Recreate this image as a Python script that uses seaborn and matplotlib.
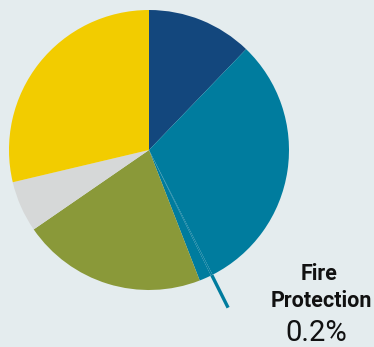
import numpy as np
import matplotlib
matplotlib.use("Agg")
import matplotlib.pyplot as plt
import seaborn as sns

# Data (percent shares, clockwise from 12 o'clock)
categories = ["Category A", "Category B", "Fire Protection", "Category C", "Category D", "Category E", "Category F"]
values = [12.2, 30.3, 0.2, 1.4, 21.3, 5.9, 28.7]
colors = ["#13477d", "#007c9e", "#007c9e", "#007c9e", "#8a9939", "#d6d8d8", "#f2cc00"]
label_name = ["Fire", "Protection"]
label_value = "0.2%"
label_index = 2

sns.set_theme(style="white")
bg = "#e4ecee"

fig = plt.figure(figsize=(3.74, 3.47), dpi=100, facecolor=bg)
ax = fig.add_axes([9/374, 57/347, 280/374, 280/347])
ax.set_facecolor(bg)

wedges, _ = ax.pie(values, colors=sns.color_palette(colors), startangle=90,
                   counterclock=False, radius=1.0,
                   wedgeprops=dict(linewidth=0, antialiased=True))
ax.set_xlim(-1, 1)
ax.set_ylim(-1, 1)
ax.set_aspect("equal")
ax.axis("off")

# leader line for the labelled slice, along its mid angle
w = wedges[label_index]
mid = np.deg2rad((w.theta1 + w.theta2) / 2)
r0, r1 = 1.0, 1.26
ax.plot([r0*np.cos(mid), r1*np.cos(mid)], [r0*np.sin(mid), r1*np.sin(mid)],
        color=colors[label_index], lw=2.4, solid_capstyle="butt", clip_on=False)

fam = ["Roboto", "DejaVu Sans"]
fig.text(319/374, 1 - 280/347, label_name[0], ha="center", va="baseline",
         fontsize=15.5, fontweight="bold", family=fam, color="#111111")
fig.text(321/374, 1 - 307/347, label_name[1], ha="center", va="baseline",
         fontsize=15.5, fontweight="bold", family=fam, color="#111111")
fig.text(316/374, 1 - 341/347, label_value, ha="center", va="baseline",
         fontsize=21, fontweight="normal", family=fam, color="#111111")

fig.savefig("out.png", dpi=100, facecolor=bg)
